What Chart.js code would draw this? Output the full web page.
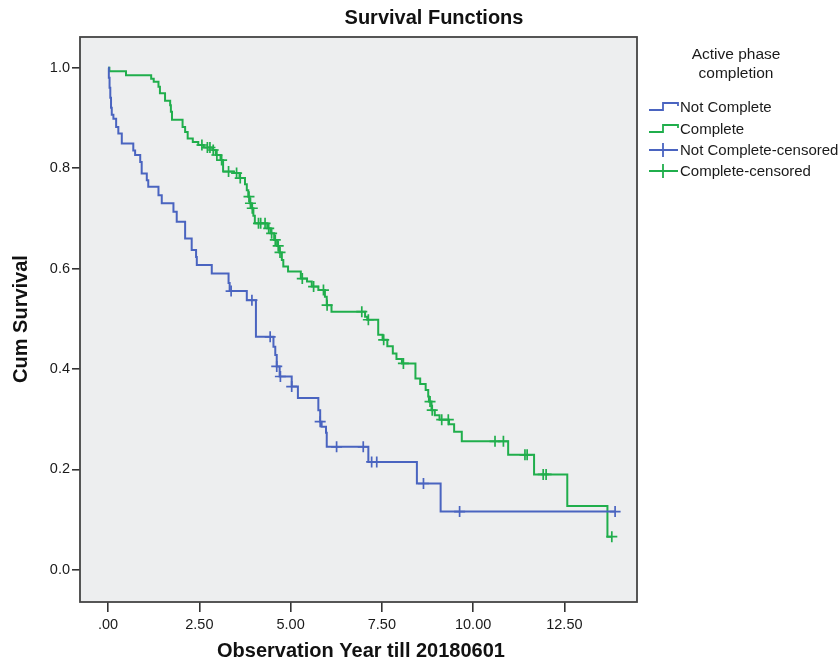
<!DOCTYPE html>
<html>
<head>
<meta charset="utf-8">
<script src="https://cdn.jsdelivr.net/npm/chart.js@4.4.1/dist/chart.umd.min.js"></script>
<style>
  html, body { margin: 0; padding: 0; background: #fff; }
  #wrap { width: 840px; height: 665px; }
</style>
</head>
<body>
<div id="wrap"><canvas id="chart" width="840" height="665"></canvas></div>
<script>
// step times / survival after each event
const NOT_COMPLETE_T = [0, 0.02, 0.04, 0.06, 0.08, 0.10, 0.145, 0.22, 0.28, 0.375, 0.69, 0.74, 0.88, 0.92, 1.06, 1.10,
  1.38, 1.47, 1.79, 1.88, 2.11, 2.29, 2.41, 2.43, 2.84, 3.30, 3.33, 3.80, 4.05, 4.53, 4.58, 4.62, 4.70, 5.03, 5.20,
  5.76, 5.81, 5.85, 5.97, 5.99, 7.13, 8.46, 9.11];
const NOT_COMPLETE_S = [1.0, 0.98, 0.96, 0.94, 0.92, 0.906, 0.898, 0.882, 0.869, 0.849, 0.835, 0.826, 0.812, 0.789, 0.776, 0.763,
  0.746, 0.73, 0.713, 0.693, 0.66, 0.637, 0.623, 0.607, 0.59, 0.571, 0.555, 0.537, 0.464, 0.444, 0.428, 0.405, 0.385, 0.365, 0.342,
  0.318, 0.295, 0.285, 0.273, 0.245, 0.215, 0.172, 0.116];
const NOT_COMPLETE_CENSORED = [3.37, 3.94, 4.44, 4.62, 4.72, 5.03, 5.81, 6.26, 6.99, 7.22, 7.36, 8.64, 9.63, 13.89];

const COMPLETE_T = [0, 0.035, 0.49, 1.18, 1.25, 1.38, 1.42, 1.56, 1.70, 1.72, 1.75, 2.04, 2.11, 2.18, 2.32, 2.47, 2.62,
  2.86, 2.95, 3.08, 3.15, 3.45, 3.60, 3.75, 3.80, 3.84, 3.88, 3.93, 3.98, 4.02, 4.36, 4.45, 4.55, 4.63, 4.69, 4.76, 4.80,
  4.93, 5.28, 5.45, 5.58, 5.76, 5.94, 5.99, 6.12, 7.04, 7.10, 7.40, 7.52, 7.65, 7.80, 7.90, 8.05, 8.42, 8.55, 8.70, 8.77,
  8.79, 8.86, 8.95, 9.08, 9.34, 9.48, 9.69, 10.96, 11.67, 12.58, 13.68];
const COMPLETE_S = [1.0, 0.993, 0.985, 0.978, 0.972, 0.962, 0.949, 0.934, 0.925, 0.912, 0.896, 0.882, 0.872, 0.859, 0.852, 0.846, 0.841,
  0.836, 0.826, 0.816, 0.793, 0.79, 0.78, 0.768, 0.756, 0.743, 0.73, 0.72, 0.705, 0.69, 0.68, 0.67, 0.657, 0.645, 0.632, 0.617, 0.604,
  0.594, 0.58, 0.574, 0.564, 0.557, 0.544, 0.527, 0.514, 0.504, 0.498, 0.468, 0.458, 0.445, 0.431, 0.42, 0.411, 0.381, 0.37, 0.358, 0.345,
  0.335, 0.318, 0.308, 0.299, 0.29, 0.275, 0.256, 0.229, 0.19, 0.127, 0.066];
const COMPLETE_CENSORED = [2.57, 2.72, 2.79, 2.88, 2.98, 3.11, 3.30, 3.52, 3.62, 3.86, 3.90, 3.95, 4.12, 4.18, 4.30, 4.40,
  4.48, 4.58, 4.66, 4.71, 5.32, 5.63, 5.90, 6.00, 6.95, 7.13, 7.55, 8.09, 8.82, 8.88, 9.14, 9.32, 10.60, 10.83, 11.42,
  11.48, 11.92, 12.00, 13.80];

const X_TICKS = [0, 2.5, 5, 7.5, 10, 12.5];
const X_TICK_LABELS = ['.00', '2.50', '5.00', '7.50', '10.00', '12.50'];
const Y_TICKS = [0, 0.2, 0.4, 0.6, 0.8, 1.0];
const Y_TICK_LABELS = ['0.0', '0.2', '0.4', '0.6', '0.8', '1.0'];

const LEGEND_TITLE = ['Active phase', 'completion'];
const LEGEND_LABELS = ['Not Complete', 'Complete', 'Not Complete-censored', 'Complete-censored'];

const BLUE = '#4a64c0';
const GREEN = '#20ae4c';
const FONT = '"Liberation Sans", Arial, sans-serif';

function stepPoints(ts, ss, censored) {
  const pts = ts.map((t, i) => ({ x: t, y: ss[i] }));
  const last = censored[censored.length - 1];
  if (last > ts[ts.length - 1]) pts.push({ x: last, y: ss[ss.length - 1] });
  return pts;
}

function survivalAt(ts, ss, t) {
  let s = ss[0];
  ts.forEach((tt, i) => { if (tt <= t + 1e-9) s = ss[i]; });
  return s;
}

function censorPoints(ts, ss, censored) {
  return censored.map(t => ({ x: t, y: survivalAt(ts, ss, t) }));
}

const frame = {
  id: 'frame',
  beforeDraw(chart) {
    const { ctx, chartArea: a } = chart;
    ctx.save();
    ctx.fillStyle = '#fff';
    ctx.fillRect(0, 0, chart.width, chart.height);
    ctx.fillStyle = '#edeeef';
    ctx.fillRect(a.left, a.top, a.right - a.left, a.bottom - a.top);
    ctx.restore();
  },
  afterDraw(chart) {
    const { ctx, chartArea: a } = chart;
    ctx.save();
    ctx.strokeStyle = '#444';
    ctx.lineWidth = 1.8;
    ctx.strokeRect(a.left, a.top, a.right - a.left, a.bottom - a.top);

    ctx.fillStyle = '#111';
    ctx.textAlign = 'center';
    ctx.textBaseline = 'middle';
    ctx.font = 'bold 20px ' + FONT;
    ctx.fillText('Survival Functions', 434, 18);
    ctx.fillText('Observation Year till 20180601', 361, 651);
    ctx.translate(21, 319);
    ctx.rotate(-Math.PI / 2);
    ctx.fillText('Cum Survival', 0, 0);
    ctx.restore();

    // legend
    ctx.save();
    ctx.fillStyle = '#1a1a1a';
    ctx.textAlign = 'center';
    ctx.textBaseline = 'middle';
    ctx.font = '15.5px ' + FONT;
    ctx.fillText(LEGEND_TITLE[0], 736, 55);
    ctx.fillText(LEGEND_TITLE[1], 736, 74);
    ctx.textAlign = 'left';
    ctx.font = '15px ' + FONT;
    const ys = [107, 129, 150, 171];
    const cols = [BLUE, GREEN, BLUE, GREEN];
    ys.forEach((y, i) => {
      ctx.strokeStyle = cols[i];
      ctx.lineWidth = 1.8;
      ctx.beginPath();
      if (i < 2) {
        ctx.moveTo(649, y + 3); ctx.lineTo(663, y + 3); ctx.lineTo(663, y - 4);
        ctx.lineTo(678, y - 4); ctx.lineTo(678, y - 1);
      } else {
        ctx.moveTo(649, y); ctx.lineTo(678, y);
        ctx.moveTo(663, y - 7); ctx.lineTo(663, y + 7);
      }
      ctx.stroke();
      ctx.fillText(LEGEND_LABELS[i], 680, y + 1);
    });
    ctx.restore();
  }
};

const lineStyle = { borderWidth: 2, pointRadius: 0, stepped: 'before', fill: false };
const crossStyle = { type: 'scatter', pointStyle: 'cross', pointRadius: 5.5, borderWidth: 1.7, showLine: false };

new Chart(document.getElementById('chart'), {
  type: 'line',
  data: {
    datasets: [
      { label: LEGEND_LABELS[0], data: stepPoints(NOT_COMPLETE_T, NOT_COMPLETE_S, NOT_COMPLETE_CENSORED), borderColor: BLUE, ...lineStyle },
      { label: LEGEND_LABELS[1], data: stepPoints(COMPLETE_T, COMPLETE_S, COMPLETE_CENSORED), borderColor: GREEN, ...lineStyle },
      { label: LEGEND_LABELS[2], data: censorPoints(NOT_COMPLETE_T, NOT_COMPLETE_S, NOT_COMPLETE_CENSORED), borderColor: BLUE, ...crossStyle },
      { label: LEGEND_LABELS[3], data: censorPoints(COMPLETE_T, COMPLETE_S, COMPLETE_CENSORED), borderColor: GREEN, ...crossStyle },
    ],
  },
  options: {
    responsive: false,
    animation: false,
    layout: { padding: { top: 37, right: 203, left: 0, bottom: 0 } },
    plugins: { legend: { display: false }, title: { display: false }, tooltip: { enabled: false } },
    scales: {
      x: {
        type: 'linear', min: -0.77, max: 14.49,
        afterBuildTicks: s => { s.ticks = X_TICKS.map(v => ({ value: v })); },
        afterFit: s => { s.height = 63; },
        ticks: { color: '#1a1a1a', font: { family: FONT, size: 14.5 }, padding: 4, maxRotation: 0,
          callback: (v, i) => X_TICK_LABELS[i] },
        grid: { drawOnChartArea: false, drawTicks: true, tickLength: 10, color: '#333', lineWidth: 1.6 },
        border: { display: false },
      },
      y: {
        type: 'linear', min: -0.064, max: 1.061,
        afterBuildTicks: s => { s.ticks = Y_TICKS.map(v => ({ value: v })); },
        afterFit: s => { s.width = 80; },
        ticks: { color: '#1a1a1a', font: { family: FONT, size: 14.5 }, padding: 2,
          callback: (v, i) => Y_TICK_LABELS[i] },
        grid: { drawOnChartArea: false, drawTicks: true, tickLength: 8, color: '#333', lineWidth: 1.6 },
        border: { display: false },
      },
    },
  },
  plugins: [frame],
});
</script>
</body>
</html>
